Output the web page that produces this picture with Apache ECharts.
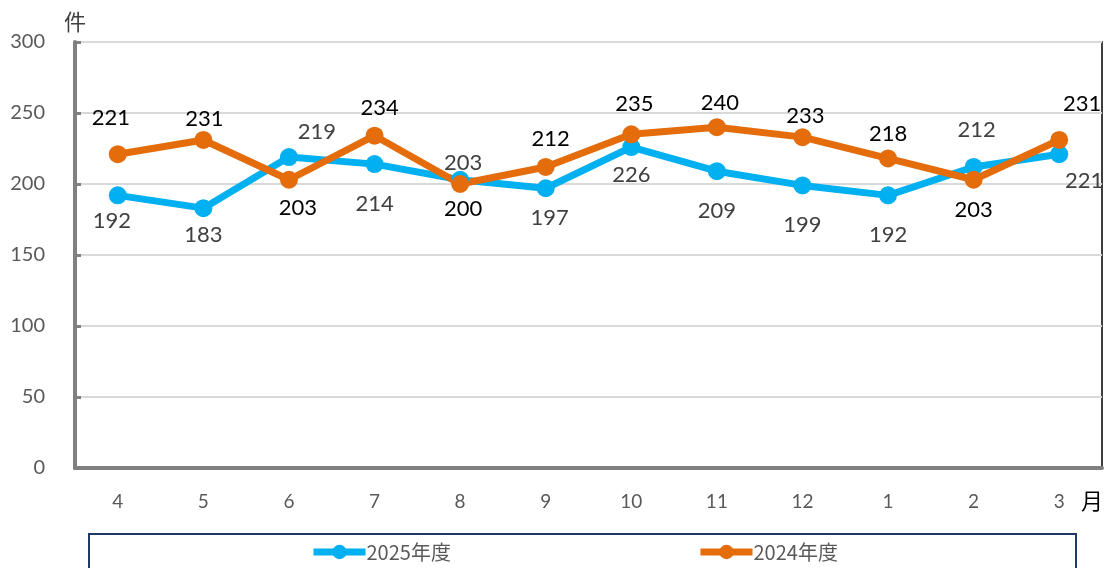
<!DOCTYPE html>
<html><head><meta charset="utf-8">
<script src="https://cdn.jsdelivr.net/npm/echarts@6/dist/echarts.min.js"></script>
<style>html,body{margin:0;padding:0;background:#fff}#c{width:1105px;height:568px}</style>
</head><body><div id="c"></div>
<script>
const months = ['4','5','6','7','8','9','10','11','12','1','2','3'];
const fy2025 = [192,183,219,214,203,197,226,209,199,192,212,221];
const fy2024 = [221,231,203,234,200,212,235,240,233,218,203,231];
const yTicks = [0,50,100,150,200,250,300];
const off2025 = [[-6,26],[0,27],[28,-25],[0,40],[3,-17],[4,30],[0,28],[0,40],[0,39],[0,40],[3,-37],[25,27]];
const off2024 = [[-7,-36],[1,-21],[9,28],[5,-28],[3,25],[5,-28],[3,-30],[3,-24],[3,-21],[0,-25],[0,30],[23,-36]];
const FONT = 'Lato, "Noto Sans CJK JP", sans-serif';
const CJK = '"Noto Sans CJK JP", sans-serif';
function mk(vals, offs){
  return vals.map((v,i)=>({value:v,label:{offset:offs[i]}}));
}
const chart = echarts.init(document.getElementById('c'));
const legendBase = {itemWidth:52,itemHeight:18,itemGap:0,padding:0,
  lineStyle:{width:7},
  textStyle:{color:'#595959',fontSize:20,fontFamily:CJK,padding:[0,0,0,-4]}};
chart.setOption({
  animation:false,
  textStyle:{fontFamily:FONT},
  grid:{left:75,right:3,top:42,bottom:100,show:true,borderColor:'#000',borderWidth:1.5},
  xAxis:{type:'category',data:months,boundaryGap:true,
    axisLine:{lineStyle:{color:'#808080',width:4}},
    axisTick:{inside:true,length:6,lineStyle:{color:'#808080',width:3},interval:0},
    axisLabel:{color:'#595959',fontSize:19,margin:24,fontFamily:FONT}},
  yAxis:{type:'value',min:yTicks[0],max:yTicks[yTicks.length-1],interval:50,
    axisLine:{show:true,lineStyle:{color:'#808080',width:4}},
    axisTick:{show:true,inside:true,length:6,lineStyle:{color:'#808080',width:3}},
    splitLine:{lineStyle:{color:'#d9d9d9',width:2}},
    axisLabel:{color:'#595959',fontSize:20,margin:30,fontFamily:FONT}},
  legend:[
    Object.assign({data:['2025年度'],left:310,top:542},legendBase),
    Object.assign({data:['2024年度'],left:697,top:542},legendBase)
  ],
  graphic:[
    {type:'rect',shape:{x:89,y:534,width:987,height:50},style:{fill:'none',stroke:'#1f3864',lineWidth:2},z:-1},
    {type:'text',left:64,top:11,style:{text:'件',fontSize:22,fill:'#404040',fontFamily:CJK}},
    {type:'text',left:1081,top:490,style:{text:'月',fontSize:22,fill:'#000',fontFamily:CJK}}
  ],
  series:[
    {name:'2025年度',type:'line',data:mk(fy2025,off2025),color:'#00b0f0',
     lineStyle:{width:7,color:'#00b0f0'},symbol:'circle',symbolSize:18,
     itemStyle:{color:'#00b0f0'},
     label:{show:true,position:'inside',color:'#404040',fontSize:22,fontFamily:FONT}},
    {name:'2024年度',type:'line',data:mk(fy2024,off2024),color:'#e46c0a',
     lineStyle:{width:7,color:'#e46c0a'},symbol:'circle',symbolSize:18,
     itemStyle:{color:'#e46c0a'},
     label:{show:true,position:'inside',color:'#000',fontSize:22,fontFamily:FONT}}
  ]
});
</script></body></html>
